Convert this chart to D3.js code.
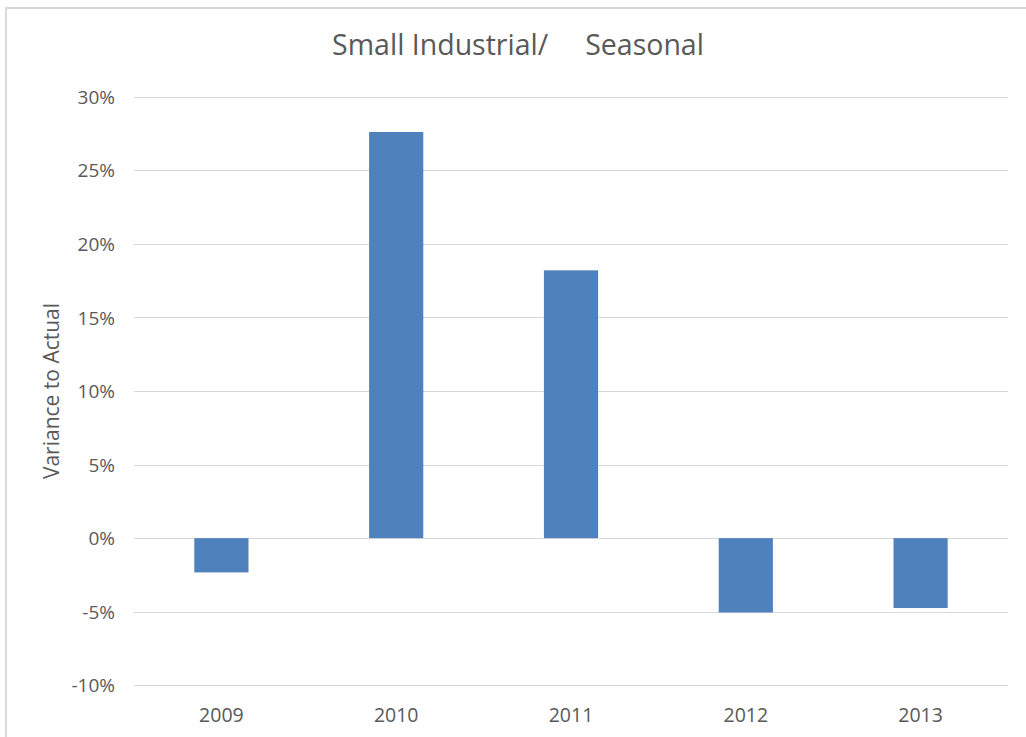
<!DOCTYPE html>
<html><head><meta charset="utf-8">
<script src="https://cdn.jsdelivr.net/npm/d3@7"></script>
<style>body{margin:0;background:#fff}svg{display:block}</style>
</head><body>
<svg id="c" width="1026" height="737"></svg>
<script>
const categories = ["2009","2010","2011","2012","2013"];
const values = [-0.0233, 0.276, 0.182, -0.0505, -0.0475];
const yTicks = [-0.10,-0.05,0,0.05,0.10,0.15,0.20,0.25,0.30];
const title = "Small Industrial/\u00a0\u00a0\u00a0\u00a0 Seasonal";
const yLabel = "Variance to Actual";

const svg = d3.select("#c");
const font = "'Open Sans', 'Noto Sans', sans-serif";
const textColor = "#595959";

// chart frame
svg.append("rect").attr("x",6).attr("y",8).attr("width",1030).attr("height",740)
  .attr("fill","#fff").attr("stroke","#d9d9d9").attr("stroke-width",2);

const m = {left:134, right:1008, top:96.7, bottom:685.3};
const x = d3.scaleBand().domain(categories).range([m.left,m.right]).paddingInner(0.69).paddingOuter(0.345);
const y = d3.scaleLinear().domain([-0.10,0.30]).range([m.bottom,m.top]);

// gridlines
svg.append("g").selectAll("line").data(yTicks).join("line")
  .attr("x1",m.left).attr("x2",m.right)
  .attr("y1",d=>Math.round(y(d))+0.5).attr("y2",d=>Math.round(y(d))+0.5)
  .attr("stroke","#d9d9d9").attr("stroke-width",1);

// y axis labels
const pct = d => (Math.round(d*100)) + "%";
const yAxis = d3.axisLeft(y).tickValues(yTicks).tickFormat(pct).tickSize(0).tickPadding(0);
const gy = svg.append("g").attr("transform",`translate(${m.left-19},0)`).call(yAxis);
gy.select(".domain").remove();
gy.selectAll("text").attr("font-family",font).attr("font-size",19).attr("fill",textColor).attr("dy","0.35em");

// bars
svg.append("g").selectAll("rect").data(values).join("rect")
  .attr("x",(d,i)=>x(categories[i]))
  .attr("width",x.bandwidth())
  .attr("y",d=>y(Math.max(0,d)))
  .attr("height",d=>Math.abs(y(d)-y(0)))
  .attr("fill","#4f81bd");

// x axis labels
const xAxis = d3.axisBottom(x).tickSize(0).tickPadding(0);
const gx = svg.append("g").attr("transform",`translate(0,${m.bottom+30})`).call(xAxis);
gx.select(".domain").remove();
gx.selectAll("text").attr("font-family",font).attr("font-size",19.5).attr("fill",textColor).attr("dy","0.35em");

// title
svg.append("text").attr("x",518).attr("y",47).attr("text-anchor","middle").attr("dominant-baseline","middle")
  .attr("font-family",font).attr("font-size",28.5).attr("fill",textColor).text(title);

// y label
svg.append("text").attr("transform",`translate(53,391) rotate(-90)`)
  .attr("text-anchor","middle").attr("dominant-baseline","middle")
  .attr("font-family",font).attr("font-size",21).attr("fill",textColor).text(yLabel);
</script>
</body></html>
